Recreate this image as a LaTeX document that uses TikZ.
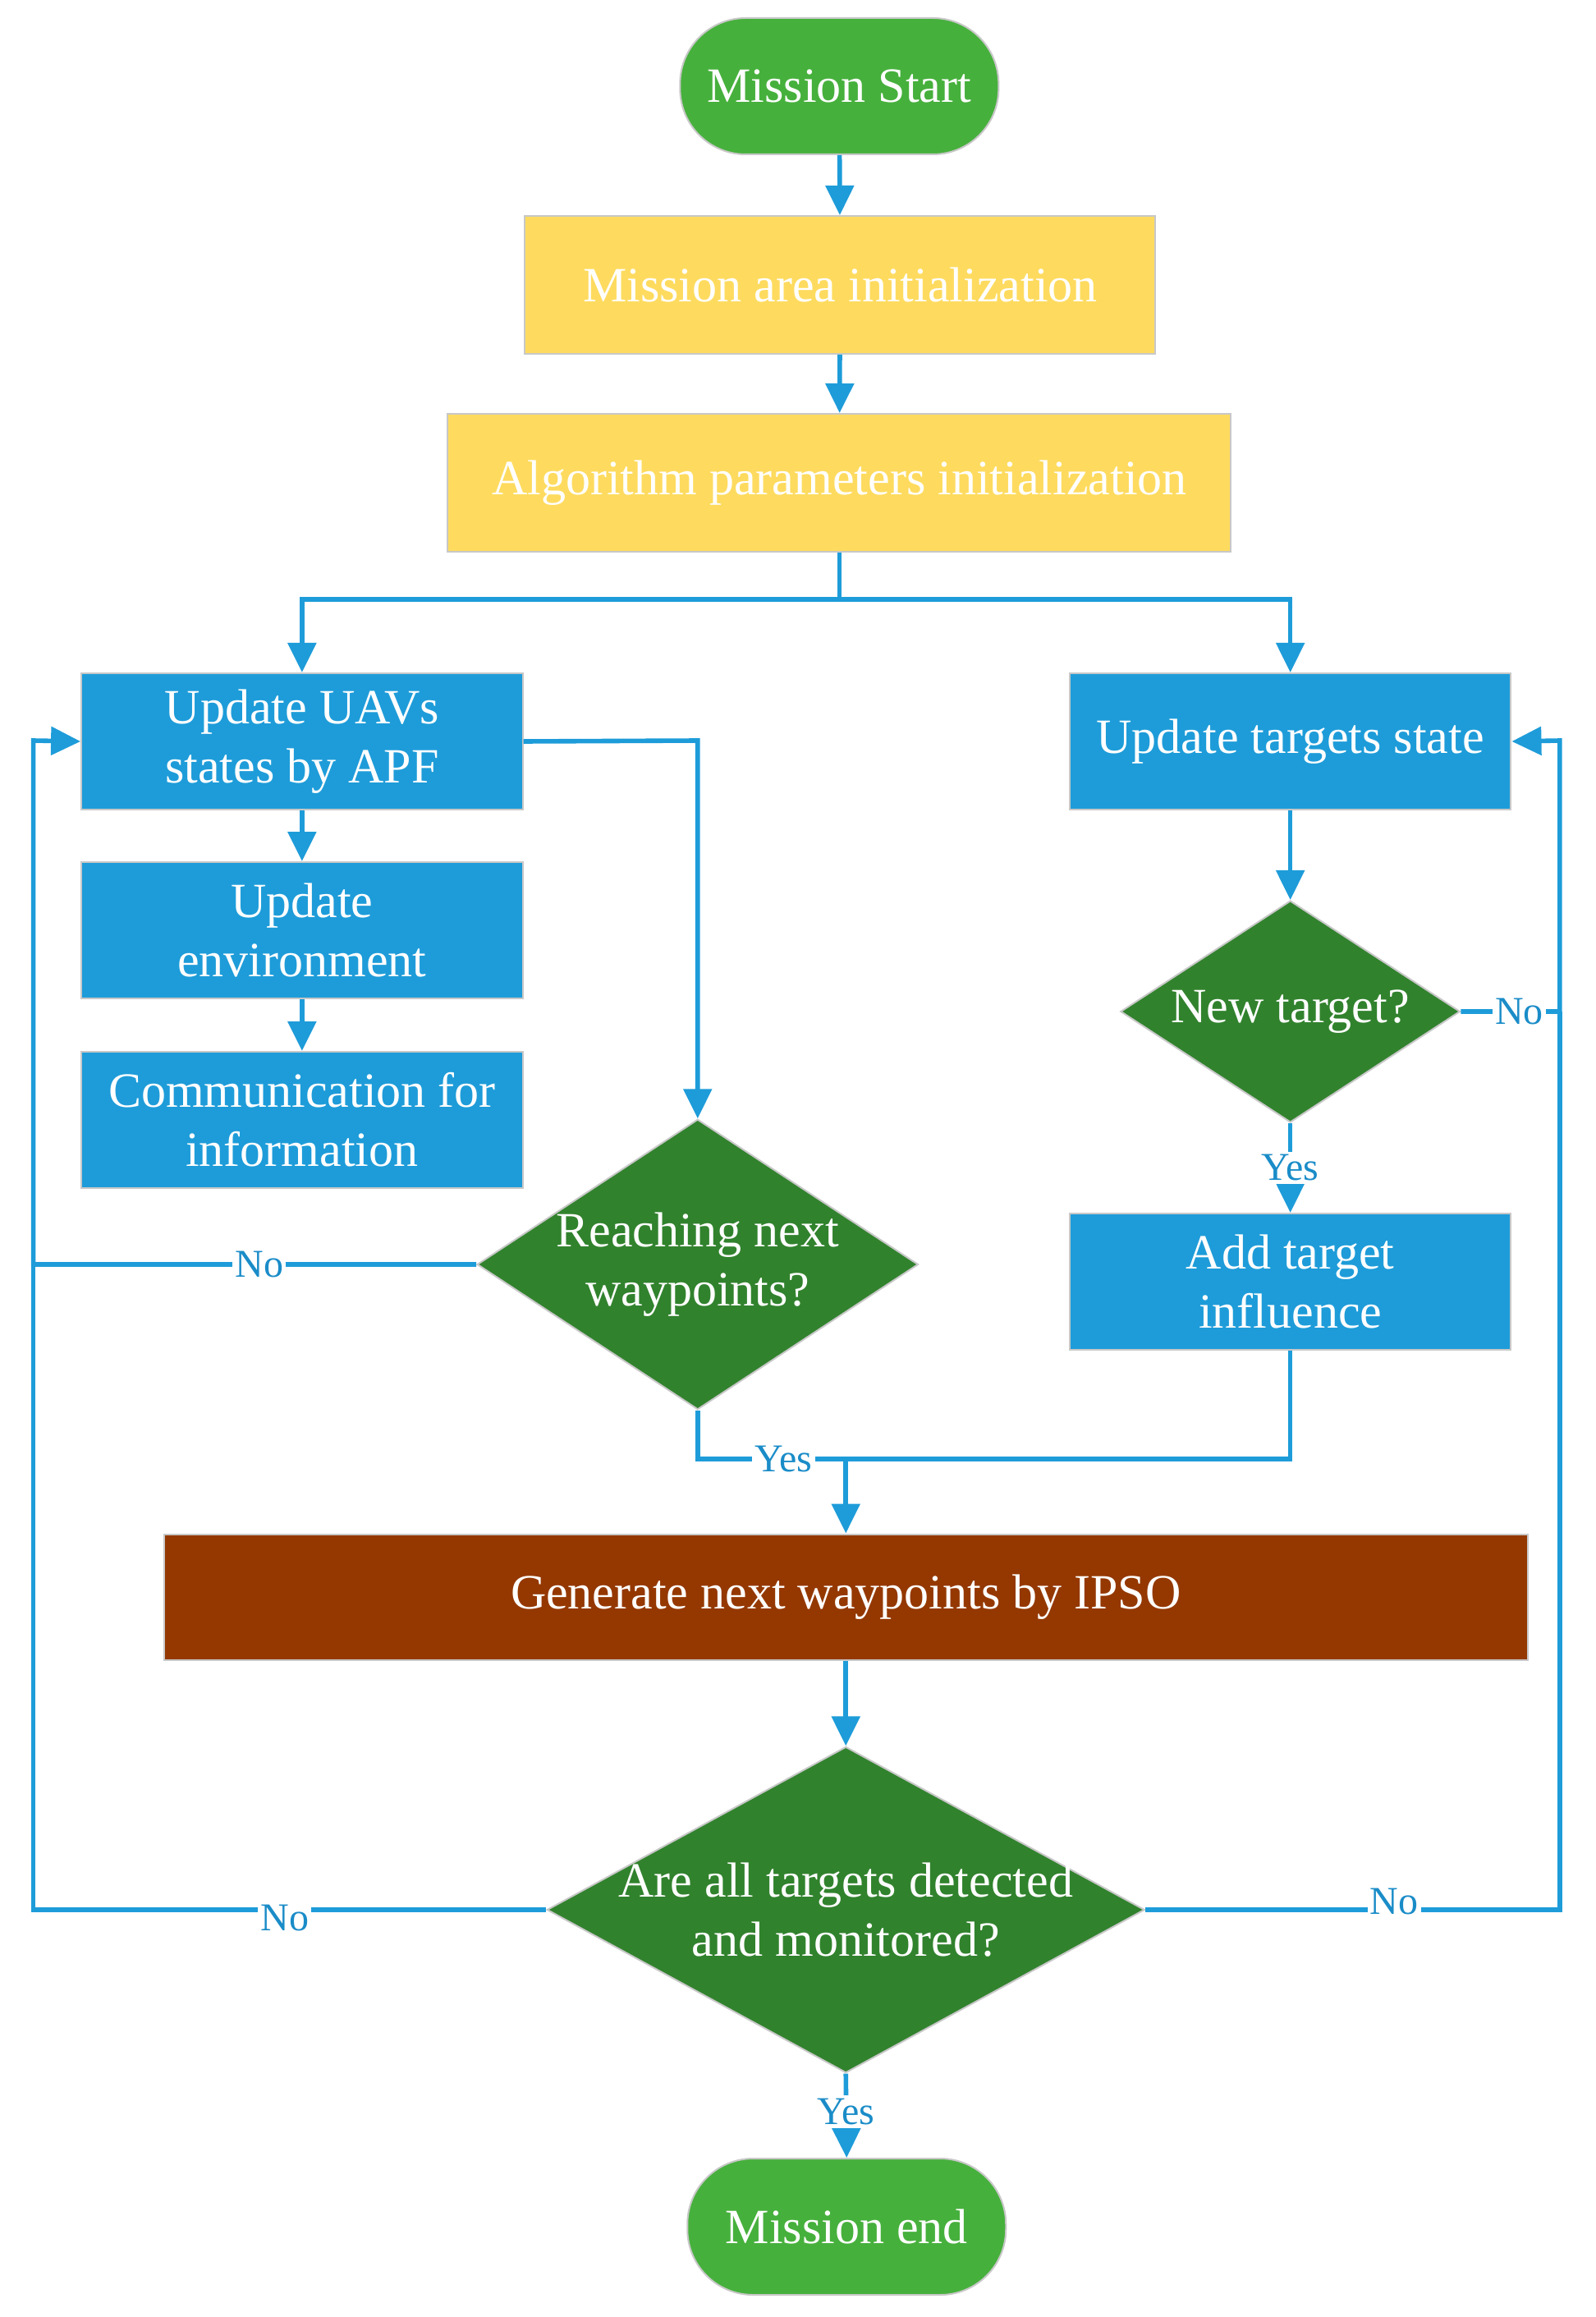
\documentclass[tikz,border=0pt]{standalone}
\usepackage{fontspec}
\setmainfont{Liberation Serif}
\usetikzlibrary{arrows.meta,shapes.geometric}
\definecolor{lnblue}{HTML}{1E9CD9}
\definecolor{lblblue}{HTML}{1A8CC8}
\definecolor{termgreen}{HTML}{46B03C}
\definecolor{inityellow}{HTML}{FEDB5F}
\definecolor{procblue}{HTML}{1E9CD9}
\definecolor{decgreen}{HTML}{31822D}
\definecolor{genbrown}{HTML}{943800}
\definecolor{bordergray}{HTML}{C8C8C8}
\tikzset{
  base/.style={draw=bordergray,line width=0.5pt,text=white,font=\fontsize{15}{18}\selectfont,align=center,inner sep=0pt},
  term/.style={base,fill=termgreen,rounded corners=20pt,minimum width=97pt,minimum height=41.5pt},
  initbox/.style={base,fill=inityellow,minimum height=42pt},
  procbox/.style={base,fill=procblue,minimum width=134.4pt,minimum height=41.5pt},
  decbox/.style={base,fill=decgreen,diamond},
  genbox/.style={base,fill=genbrown,minimum width=415.25pt,minimum height=38.25pt},
  conn/.style={draw=lnblue,line width=1.4pt},
  arr/.style={conn,-{Triangle[length=9pt,width=8.5pt]}},
  lbl/.style={fill=white,text=lblblue,font=\fontsize{12}{14}\selectfont,inner xsep=0.8pt,inner ysep=3pt}
}
\begin{document}
\begin{tikzpicture}[x=0.2479pt,y=-0.25pt]
\useasboundingbox (0,0) rectangle (1960.3,2822);
% nodes
\node[term] (start) at (1031,105) {Mission Start};
\node[initbox,minimum width=192pt] (init1) at (1032,347) {Mission area initialization};
\node[initbox,minimum width=238.5pt] (init2) at (1031,588) {Algorithm parameters initialization};
\node[procbox] (uav) at (371,903) {Update UAVs\\states by APF};
\node[procbox] (env) at (371,1133) {Update\\environment};
\node[procbox] (comm) at (371,1364) {Communication for\\information};
\node[procbox] (tgt) at (1585,903) {Update targets state};
\node[decbox,aspect=1.53,minimum width=103.4pt,minimum height=67.5pt] (newt) at (1585,1232) {New target?};
\node[decbox,aspect=1.52,minimum width=132.9pt,minimum height=87.5pt] (reach) at (857,1540) {Reaching next\\waypoints?};
\node[procbox] (add) at (1585,1561) {Add target\\influence};
\node[genbox] (gen) at (1039,1945) {Generate next waypoints by IPSO};
\node[decbox,aspect=1.83,inner sep=-1.6pt,minimum width=182pt,minimum height=99.25pt] (all) at (1039,2326) {Are all targets detected\\and monitored?};
\node[term] (end) at (1040,2712) {Mission end};
% coordinates
\coordinate (br) at (1031,730);
\coordinate (brl) at (371,730);
\coordinate (brr) at (1585,730);
\coordinate (uavr) at (857,902);
\coordinate (loopl1) at (41,902);
\coordinate (loopl2) at (41,1540);
\coordinate (loopl3) at (41,2326);
\coordinate (loopr1) at (1916,902);
\coordinate (loopr2) at (1916,1232);
\coordinate (loopr3) at (1916,2326);
\coordinate (mreach) at (857,1777);
\coordinate (madd) at (1585,1777);
\coordinate (mid) at (1039,1777);
% connectors
\draw[arr] (start) -- (init1);
\draw[arr] (init1) -- (init2);
\draw[conn] (init2.south) -- (br);
\draw[arr] (br) -- (brl) -- (uav.north);
\draw[arr] (br) -- (brr) -- (tgt.north);
\draw[arr] (uav) -- (env);
\draw[arr] (env) -- (comm);
\draw[arr] (uav.east) -- (uavr) -- (reach.north);
\draw[arr] (reach.west) -- node[lbl,pos=0.49]{No} (loopl2) -- (loopl1) -- (uav.west);
\draw[conn] (all.west) -- node[lbl,pos=0.51,yshift=-2.5pt]{No} (loopl3) -- (loopl2);
\draw[arr] (tgt) -- (newt);
\draw[arr] (newt.south) -- node[lbl,pos=0.5,inner ysep=1pt]{Yes} (add.north);
\draw[arr] (newt.east) -- node[lbl,pos=0.59]{No} (loopr2) -- (loopr1) -- (tgt.east);
\draw[conn] (all.east) -- node[lbl,pos=0.6,yshift=2.5pt]{No} (loopr3) -- (loopr2);
\draw[conn] (reach.south) -- (mreach) -- node[lbl,pos=0.58]{Yes} (mid);
\draw[conn] (add.south) -- (madd) -- (mid);
\draw[arr] (mid) -- (gen.north);
\draw[arr] (gen) -- (all);
\draw[arr] (all.south) -- node[lbl,pos=0.45,inner ysep=1pt]{Yes} (end.north);
\end{tikzpicture}
\end{document}
